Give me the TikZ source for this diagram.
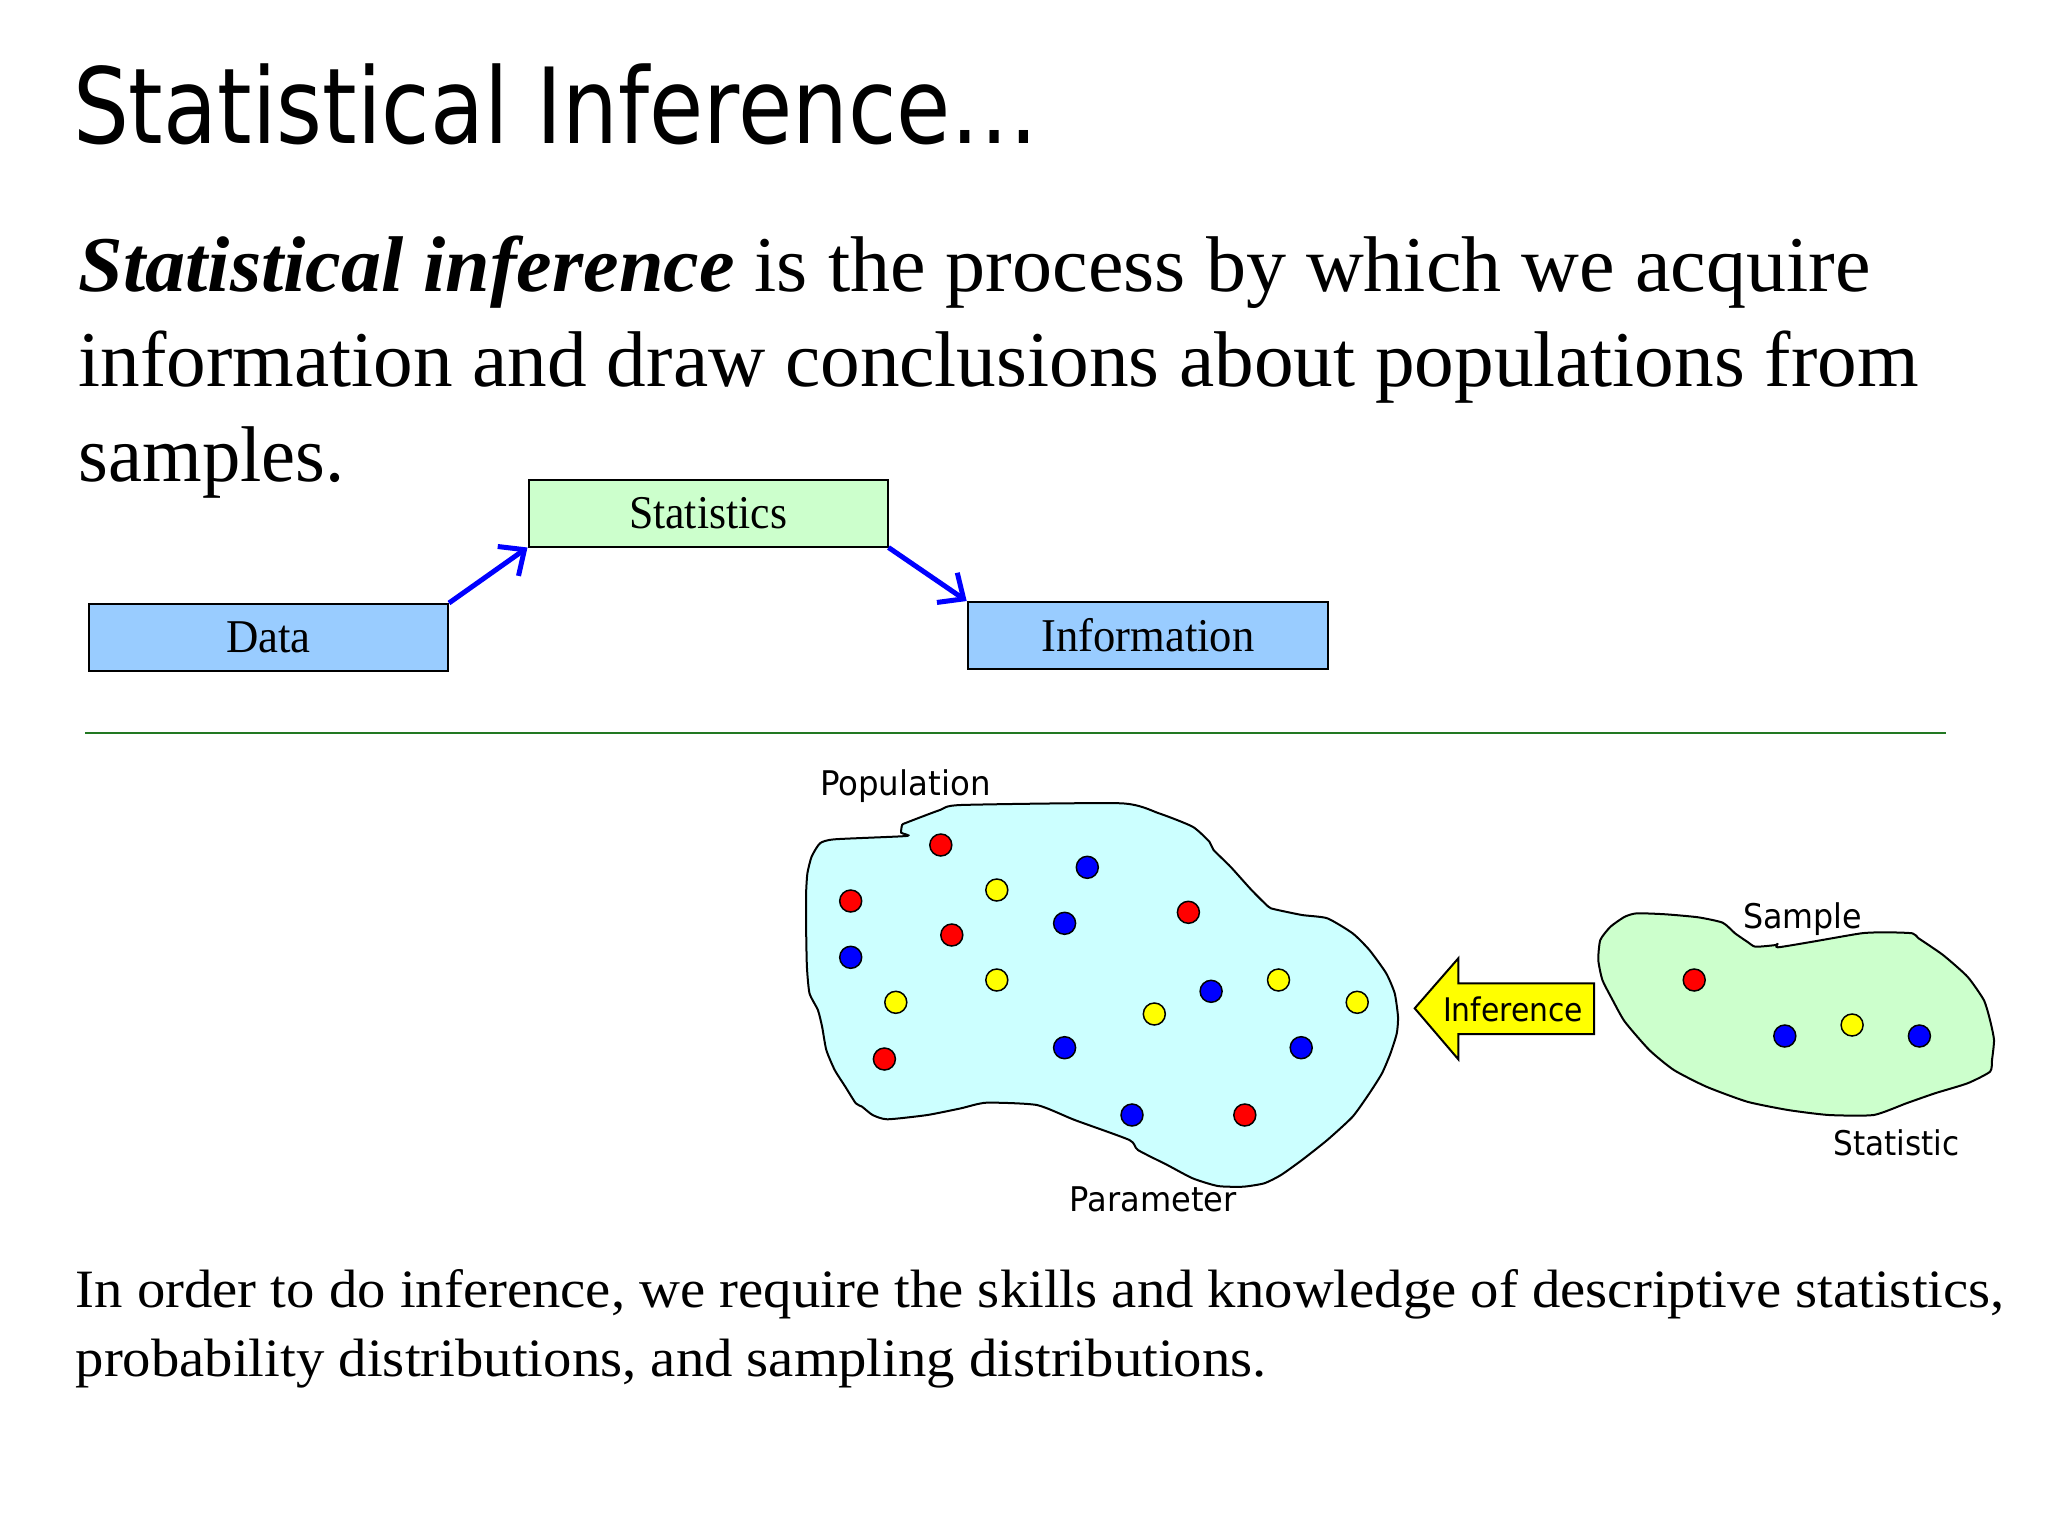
\documentclass[tikz,border=0pt]{standalone}
\usepackage{fontspec}
\setmainfont{Liberation Serif}
\newfontfamily\tah{DejaVu Sans}
\usepackage{graphicx}
\usetikzlibrary{arrows.meta}
\definecolor{popfill}{HTML}{CCFFFF}
\definecolor{smpfill}{HTML}{CCFFCC}
\definecolor{boxblue}{HTML}{99CCFF}
\definecolor{boxgreen}{HTML}{CCFFCC}
\definecolor{rulegreen}{RGB}{34,120,34}
\definecolor{dotred}{HTML}{FF0000}
\definecolor{dotblue}{HTML}{0000FF}
\definecolor{dotyellow}{HTML}{FFFF00}
\newcommand{\fitw}[2]{\resizebox{#1pt}{\height}{#2}}
\begin{document}
\begin{tikzpicture}[x=1pt,y=-1pt,
  txt/.style={anchor=base west, inner sep=0pt, outer sep=0pt},
  flowbox/.style={draw=black, line width=2pt, minimum width=359pt, minimum height=67pt, inner sep=0pt, font=\fontsize{47}{56}\selectfont},
  flowarrow/.style={draw=dotblue, line width=5pt, -{Straight Barb[length=20pt,width=36pt]}},
  dot/.style={circle, draw=black, line width=1.5pt, minimum size=22pt, inner sep=0pt},
  blob/.style={draw=black, line width=2pt},
  lab/.style={txt, font=\tah\fontsize{34}{40}\selectfont},
  ]
\fill[white] (0,0) rectangle (2048,1536);
\useasboundingbox (0,0) rectangle (2048,1536);

% title
\node[txt, font=\tah\fontsize{105}{120}\selectfont] (title) at (73,143.3) {\fitw{966}{Statistical Inference…}};

% definition paragraph
\node[txt, font=\fontsize{79}{96}\selectfont] (l1) at (78.7,291.7) {\fitw{1792}{\textbf{\textit{Statistical inference}} is the process by which we acquire}};
\node[txt, font=\fontsize{79}{96}\selectfont] (l2) at (78.7,386.7) {\fitw{1840}{information and draw conclusions about populations from}};
\node[txt, font=\fontsize{79}{96}\selectfont] (l3) at (78.7,481.7) {\fitw{266}{samples.}};

% flow boxes
\node[flowbox, fill=boxblue] (data) at (268.5,637.5) {\fitw{84.6}{Data}};
\node[flowbox, fill=boxgreen] (stat) at (708,513) {\fitw{158}{Statistics}};
\node[flowbox, fill=boxblue, minimum width=360.6pt] (info) at (1148,635.5) {\fitw{213}{Information}};
\draw[flowarrow] (data.north east) -- (stat.south west);
\draw[flowarrow] (stat.south east) -- (info.north west);

% rule
\draw[rulegreen, line width=2.5pt] (85,733) coordinate (r1) -- (1946,733) coordinate (r2);

% population
\draw[blob, fill=popfill] plot[smooth cycle, tension=0.35] coordinates {
(906.3,836) (834.7,839.3) (820,843.3) (811.6,856.7) (807.4,873.3) (806.1,893.3) (806.1,926.7) (806.9,966.7) (809.5,993.3) (817.9,1010) (822.1,1026.7) (826.3,1050) (834.7,1070) (845.3,1086.7) (855.8,1103.3) (862.1,1106.7) (872.6,1115) (887.4,1119.3) (927.4,1115) (961,1108.3) (986.3,1102.7) (1036.8,1105) (1074.7,1120) (1129.4,1140) (1137.9,1150) (1167.3,1165) (1192.6,1178.3) (1217.8,1186) (1243.1,1186.7) (1264.2,1183.3) (1281,1175) (1302,1160) (1327.3,1140) (1352.6,1116.7) (1369.4,1093.3) (1382,1073.3) (1390.5,1053.3) (1396.8,1033.3) (1398,1016.7) (1394.7,993.3) (1386.2,973.3) (1369.4,950) (1352.6,933.3) (1327.3,918.3) (1302,915) (1274.7,909.3) (1268.4,906.7) (1251.5,890) (1230.5,866.7) (1213.6,850) (1209.4,841.7) (1192.6,826.7) (1158.9,813.3) (1121,803.3) (961,805) (940,810) (906.3,822.7) (902.1,825) (901.2,832.7)};

\node[dot, fill=dotred] (p1) at (940.8,845) {};
\node[dot, fill=dotblue] (p2) at (1087.3,867.3) {};
\node[dot, fill=dotyellow] (p3) at (996.8,890) {};
\node[dot, fill=dotred] (p4) at (850.7,901) {};
\node[dot, fill=dotblue] (p5) at (1064.6,923.3) {};
\node[dot, fill=dotred] (p6) at (1188.4,912.3) {};
\node[dot, fill=dotred] (p7) at (951.8,935) {};
\node[dot, fill=dotblue] (p8) at (850.7,957.3) {};
\node[dot, fill=dotyellow] (p9) at (996.8,980) {};
\node[dot, fill=dotyellow] (p10) at (895.8,1002.3) {};
\node[dot, fill=dotblue] (p11) at (1211.1,991.3) {};
\node[dot, fill=dotyellow] (p12) at (1278.5,980) {};
\node[dot, fill=dotyellow] (p13) at (1357.2,1002.3) {};
\node[dot, fill=dotyellow] (p14) at (1154.3,1014) {};
\node[dot, fill=dotred] (p15) at (884.4,1059) {};
\node[dot, fill=dotblue] (p16) at (1064.6,1047.7) {};
\node[dot, fill=dotblue] (p17) at (1301.2,1047.7) {};
\node[dot, fill=dotblue] (p18) at (1132,1115) {};
\node[dot, fill=dotred] (p19) at (1244.8,1115) {};

\node[lab] (poplab) at (820,795) {\fitw{170.5}{Population}};
\node[lab] (parlab) at (1069.6,1211.7) {\fitw{167}{Parameter}};

% sample
\draw[blob, fill=smpfill] plot[smooth cycle, tension=0.35] coordinates {
(1637.0,913.3) (1665.6,914.3) (1698.2,917.3) (1722.7,922.7) (1735.0,933.3) (1747.2,941.7) (1755.4,946.7) (1775.8,945) (1777.8,943.3) (1777.8,947.3) (1812.5,941.7) (1861.4,933.3) (1885.9,932.3) (1912.4,933.3) (1918.6,938.3) (1943.0,955) (1967.5,976.7) (1983.8,1000) (1990.0,1020) (1994.0,1040) (1992.0,1060) (1990.0,1071.7) (1967.5,1083.3) (1934.9,1093.3) (1906.3,1103.3) (1873.7,1115) (1828.8,1115) (1788.0,1110) (1747.2,1101.7) (1706.4,1086.7) (1673.8,1070) (1649.3,1050) (1624.8,1021.7) (1612.6,1000) (1602.4,980) (1598.3,960) (1600.3,940) (1610.5,926.7) (1624.8,916.7)};

\node[dot, fill=dotred] (s1) at (1694.2,980) {};
\node[dot, fill=dotblue] (s2) at (1784.8,1036) {};
\node[dot, fill=dotyellow] (s3) at (1852.1,1025) {};
\node[dot, fill=dotblue] (s4) at (1919.4,1036) {};

\node[lab] (smplab) at (1743,928.3) {\fitw{119}{Sample}};
\node[lab] (stclab) at (1833.7,1155) {\fitw{126}{Statistic}};

% inference arrow
\draw[black, line width=2pt, fill=dotyellow, line join=miter]
  (1414.7,1008.3) coordinate (tip) -- (1458.3,958.3) -- (1458.3,983.3) -- (1594.2,983.3)
  -- (1594.2,1034) -- (1458.3,1034) -- (1458.3,1059.3) -- cycle;
\node[txt, font=\tah\fontsize{32.5}{40}\selectfont] (inflab) at (1443,1021.7) {\fitw{140}{Inference}};

% bottom paragraph
\node[txt, font=\fontsize{54}{64}\selectfont] (b1) at (75.7,1307.3) {\fitw{1929}{In order to do inference, we require the skills and knowledge of descriptive statistics,}};
\node[txt, font=\fontsize{54}{64}\selectfont] (b2) at (75.7,1376.7) {\fitw{1191}{probability distributions, and sampling distributions.}};
\end{tikzpicture}
\end{document}
